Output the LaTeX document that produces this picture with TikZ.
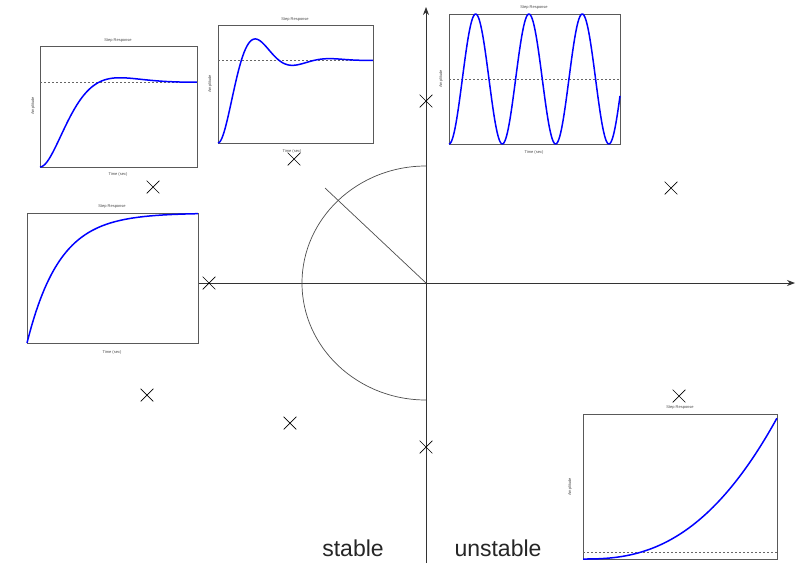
\documentclass[tikz,border=0pt]{standalone}
\usepackage{fontspec}
\setsansfont{Liberation Sans}
\usetikzlibrary{arrows.meta,shapes.misc}

\begin{document}
\begin{tikzpicture}[x=1pt,y=-1pt,>={Stealth[length=8pt,width=6pt]},
pole/.style={cross out,draw,minimum size=12pt,inner sep=0pt,line width=0.7pt},
plotbox/.style={draw=black!65,line width=0.8pt,fill=white,anchor=north west,inner sep=0pt},
resp/.style={blue,line width=1.5pt,line join=round},
final/.style={black!60,line width=0.5pt,dash pattern=on 2pt off 2pt},
tinytext/.style={font=\sffamily\fontsize{4}{4}\selectfont,text=black!70,inner sep=0pt},
axis/.style={black!80,line width=0.8pt}]
\useasboundingbox (0,0) rectangle (797,563);

% s-plane
\coordinate (o) at (426,283);
\coordinate (xend) at (795,283);
\coordinate (ytop) at (426,7);
\coordinate (ybot) at (426,563);
\coordinate (zeta) at (325,188);

% step responses
\node[plotbox,minimum width=157pt,minimum height=121pt] (sr1) at (40,46) {};
\node[plotbox,minimum width=155pt,minimum height=118pt] (sr2) at (218,25) {};
\node[plotbox,minimum width=171pt,minimum height=130pt] (sr3) at (449,14) {};
\node[plotbox,minimum width=171pt,minimum height=130pt] (sr4) at (27,213) {};
\node[plotbox,minimum width=194pt,minimum height=145pt] (sr5) at (583,414) {};

\draw[axis,->] (sr4.east |- o) -- (xend);
\draw[axis,->] (ybot) -- (ytop);
\draw[black!70,line width=0.7pt] (426,166) arc[start angle=90,end angle=270,x radius=124pt,y radius=117pt];
\draw[black!70,line width=0.7pt] (o) -- (zeta);

% responses
\draw[final] (sr1.west |- 0,82) -- (sr1.east |- 0,82);
\draw[resp] plot[domain=0:1,samples=90]
  ({40+157*\x},{167-85*(1-exp(-5.87*\x)*(cos(deg(6.16*\x))+0.953*sin(deg(6.16*\x))))});
\draw[final] (sr2.west |- 0,60) -- (sr2.east |- 0,60);
\draw[resp] plot[domain=0:1,samples=120]
  ({218+155*\x},{143-83*(1-exp(-5.72*\x)*(cos(deg(13.1*\x))+0.436*sin(deg(13.1*\x))))});
\draw[final] (sr3.west |- 0,79) -- (sr3.east |- 0,79);
\draw[resp] plot[domain=0:171,samples=200] ({449+\x},{144-65*(1-cos(6.754*\x))});
\draw[resp] plot[domain=0:1,samples=80] ({27+171*\x},{343-130*(1-exp(-\x/0.19))});
\draw[final] (sr5.west |- 0,552) -- (sr5.east |- 0,552);
\draw[resp] plot[domain=0:1,samples=80] ({583+194*\x},{559-141*\x*\x*sqrt(\x)});

% labels of the plots
\node[tinytext] (t1) at (118,41) {Step Response};
\node[tinytext] (x1) at (118,174) {Time (sec)};
\node[tinytext,rotate=90] (a1) at (33,106) {Amplitude};
\node[tinytext] (t2) at (295,20) {Step Response};
\node[tinytext] (x2) at (292,151) {Time (sec)};
\node[tinytext,rotate=90] (a2) at (210,84) {Amplitude};
\node[tinytext] (t3) at (534,8) {Step Response};
\node[tinytext] (x3) at (534,152) {Time (sec)};
\node[tinytext,rotate=90] (a3) at (441,79) {Amplitude};
\node[tinytext] (t4) at (112,207) {Step Response};
\node[tinytext] (x4) at (112,352) {Time (sec)};
\node[tinytext] (t5) at (680,408) {Step Response};
\node[tinytext,rotate=90] (a5) at (570,487) {Amplitude};

% poles
\node[pole] (p1) at (153,187) {};
\node[pole] (p2) at (294,159) {};
\node[pole] (p3) at (426,101) {};
\node[pole] (p4) at (671,188) {};
\node[pole] (p5) at (209,283) {};
\node[pole] (p6) at (147,395) {};
\node[pole] (p7) at (290,423) {};
\node[pole] (p8) at (426,447) {};
\node[pole] (p9) at (679,396) {};

\node[font=\sffamily\fontsize{23}{27}\selectfont,anchor=base,text=black!85] (stab) at (353,556) {stable};
\node[font=\sffamily\fontsize{23}{27}\selectfont,anchor=base,text=black!85] (unstab) at (498,556) {unstable};
\end{tikzpicture}
\end{document}
